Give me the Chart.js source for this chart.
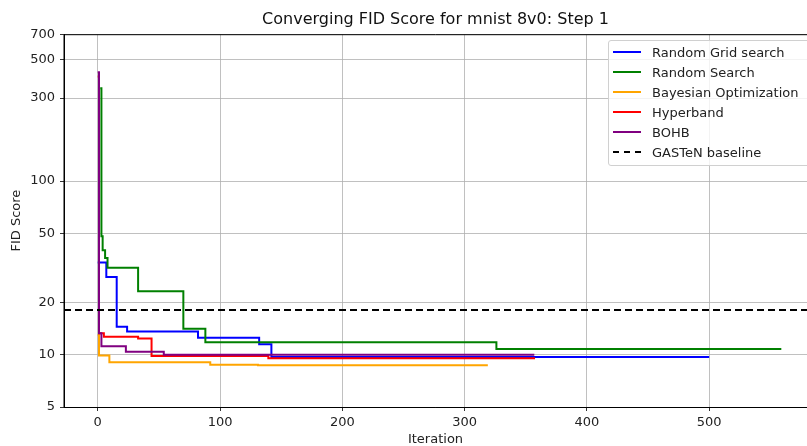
<!DOCTYPE html>
<html lang="en">
<head>
    <meta charset="UTF-8">
    <title>Converging FID Score</title>
    <script src="https://cdn.jsdelivr.net/npm/chart.js"></script>
    <style>
        body { margin: 0; background: #fff; font-family: "DejaVu Sans", sans-serif; }
        .wrap { position: relative; width: 807px; height: 446px; overflow: hidden; }
        .legend {
            position: absolute; left: 608px; top: 40px; width: 215px; height: 126px;
            border: 1px solid #d0d0d0; border-radius: 3px; background: rgba(255,255,255,0.8);
            font-size: 13px; color: #222; box-sizing: border-box; padding-top: 1px;
        }
        .legend .row { height: 20px; display: flex; align-items: center; }
        .legend .swatch { width: 28px; margin-left: 4px; margin-right: 11px; height: 0; border-top: 2px solid; }
        .legend .dash { border-top-style: dashed; }
    </style>
</head>
<body>
<div class="wrap">
    <canvas id="fidChart"></canvas>
    <div class="legend" id="legend"></div>
</div>
<script>
    // values (iteration, best FID so far)
    const seriesNames = ['Random Grid search', 'Random Search', 'Bayesian Optimization', 'Hyperband', 'BOHB'];
    const seriesColors = ['#0000ff', '#008000', '#ffa500', '#ff0000', '#800080'];

    const gridIters = [0, 7, 15.5, 24, 82, 132, 142, 500];
    const gridFid = [34, 28, 14.5, 13.6, 12.5, 11.5, 9.7, 9.7];

    const randomIters = [2, 3, 4, 6, 8, 33, 70, 88, 326, 559];
    const randomFid = [342, 48, 40, 36, 31.7, 23.2, 14.1, 11.8, 10.8, 10.8];

    const bayesIters = [0, 1, 9.5, 92, 131, 319];
    const bayesFid = [13, 9.9, 9.05, 8.75, 8.7, 8.7];

    const hyperIters = [0, 1, 5, 33, 44, 139.5, 357.6];
    const hyperFid = [400, 13.3, 12.7, 12.4, 9.83, 9.55, 9.55];

    const bohbIters = [0, 1, 3, 23, 54, 357];
    const bohbFid = [423, 13.3, 11.2, 10.4, 10.0, 10.0];

    const baselineFid = 18.1;
    const xRange = [-27.6, 580];
    const yRange = [5, 700];
    const xTicks = [0, 100, 200, 300, 400, 500];
    const yTicks = [5, 10, 20, 50, 100, 300, 500, 700];

    const allIters = [gridIters, randomIters, bayesIters, hyperIters, bohbIters];
    const allFid = [gridFid, randomFid, bayesFid, hyperFid, bohbFid];

    const FONT = 'DejaVu Sans';

    const datasets = seriesNames.map((name, i) => ({
        label: name,
        data: allIters[i].map((x, j) => ({ x: x, y: allFid[i][j] })),
        borderColor: seriesColors[i],
        backgroundColor: seriesColors[i],
        borderWidth: 2,
        pointRadius: 0,
        stepped: true,
        order: 6 - i
    }));
    datasets.push({
        label: 'GASTeN baseline',
        data: xRange.map(x => ({ x: x, y: baselineFid })),
        borderColor: '#000',
        borderWidth: 2,
        borderDash: [7, 4],
        pointRadius: 0,
        order: 0
    });

    // legend as html, like matplotlib's box in the upper right
    const legend = document.getElementById('legend');
    datasets.forEach(d => {
        const row = document.createElement('div');
        row.className = 'row';
        const sw = document.createElement('span');
        sw.className = 'swatch' + (d.borderDash ? ' dash' : '');
        sw.style.borderColor = d.borderColor;
        const txt = document.createElement('span');
        txt.textContent = d.label;
        row.appendChild(sw);
        row.appendChild(txt);
        legend.appendChild(row);
    });

    // center the title over the plot area, not the whole canvas
    const titleOverPlot = {
        id: 'titleOverPlot',
        afterLayout(chart) {
            const t = chart.titleBlock;
            if (t) {
                t.left = chart.chartArea.left;
                t.right = chart.chartArea.right;
            }
        }
    };

    const frame = {
        id: 'frame',
        afterDatasetsDraw(chart) {
            const a = chart.chartArea;
            const c = chart.ctx;
            c.save();
            c.strokeStyle = '#000';
            c.lineWidth = 1;
            c.beginPath();
            c.moveTo(a.left, a.bottom + 0.5);
            c.lineTo(a.left, a.top + 0.5);
            c.lineTo(a.right, a.top + 0.5);
            c.stroke();
            c.restore();
        }
    };

    const ctx = document.getElementById('fidChart').getContext('2d');
    new Chart(ctx, {
        type: 'line',
        data: { datasets: datasets },
        plugins: [titleOverPlot, frame],
        options: {
            responsive: true,
            maintainAspectRatio: false,
            animation: false,
            layout: { padding: 0 },
            plugins: {
                legend: { display: false },
                tooltip: { enabled: false },
                title: {
                    display: true,
                    text: 'Converging FID Score for mnist 8v0: Step 1',
                    color: '#111',
                    font: { family: FONT, size: 16, weight: 'normal', lineHeight: 1.2 },
                    padding: { top: 10, bottom: 5 }
                }
            },
            scales: {
                x: {
                    type: 'linear',
                    min: xRange[0],
                    max: xRange[1],
                    afterBuildTicks: s => { s.ticks = xTicks.map(v => ({ value: v })); },
                    afterFit: s => { s.height = 39; },
                    ticks: { color: '#222', font: { family: FONT, size: 13 }, padding: 4, maxRotation: 0 },
                    grid: { color: '#b0b0b0', lineWidth: 0.8, tickColor: '#000', tickLength: 4 },
                    border: { color: '#000', width: 1 },
                    title: {
                        display: true, text: 'Iteration', color: '#222',
                        font: { family: FONT, size: 13, lineHeight: 1 }, padding: { top: 0, bottom: 0 }
                    }
                },
                y: {
                    type: 'logarithmic',
                    min: yRange[0],
                    max: yRange[1],
                    afterBuildTicks: s => { s.ticks = yTicks.map(v => ({ value: v })); },
                    afterFit: s => { s.width = 64; },
                    ticks: { color: '#222', font: { family: FONT, size: 13 }, padding: 5, callback: v => String(v) },
                    grid: { color: '#b0b0b0', lineWidth: 0.8, tickColor: '#000', tickLength: 4 },
                    border: { color: '#000', width: 1 },
                    title: {
                        display: true, text: 'FID Score', color: '#222',
                        font: { family: FONT, size: 13, lineHeight: 1 }, padding: { top: 10, bottom: 0 }
                    }
                }
            }
        }
    });
</script>
</body>
</html>
